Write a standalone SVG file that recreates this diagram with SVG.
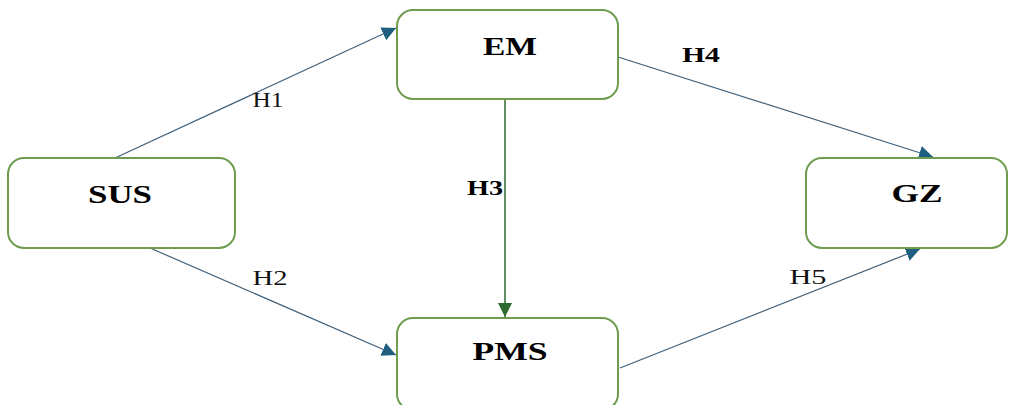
<svg xmlns="http://www.w3.org/2000/svg" width="1020" height="405" viewBox="0 0 1020 405">
<style>
.box{fill:#fff;stroke:#6f9d4f;stroke-width:2}
.nl{font-family:"Liberation Serif",serif;font-weight:bold;font-size:26px;fill:#000;text-anchor:middle}
.hl{font-family:"Liberation Serif",serif;font-size:21px;fill:#111;text-anchor:middle}
.hb{font-weight:bold;fill:#000}
.c{fill:none;stroke:#40607a;stroke-width:1.2}
.cg{fill:none;stroke:#2f6b2f;stroke-width:1.5}
</style>
<defs>
<marker id="ab" markerUnits="userSpaceOnUse" markerWidth="14" markerHeight="14" refX="12" refY="6" orient="auto" viewBox="0 0 12 12">
<path d="M0,0 L12,6 L0,12 Z" fill="#1e5f80"/>
</marker>
<marker id="ag" markerUnits="userSpaceOnUse" markerWidth="14" markerHeight="14" refX="12" refY="6" orient="auto" viewBox="0 0 12 12">
<path d="M0,0 L12,6 L0,12 Z" fill="#2f6b2f"/>
</marker>
</defs>
<rect width="1020" height="405" fill="#fff"/>
<g id="connectors">
<line class="c" x1="115" y1="158" x2="396" y2="28" marker-end="url(#ab)"/>
<line class="c" x1="150" y1="248" x2="396" y2="355" marker-end="url(#ab)"/>
<line class="cg" x1="505" y1="99" x2="505" y2="317" marker-end="url(#ag)"/>
<line class="c" x1="618" y1="57" x2="933" y2="157" marker-end="url(#ab)"/>
<line class="c" x1="620" y1="368" x2="920" y2="249" marker-end="url(#ab)"/>
<text class="hl" x="268" y="107" textLength="31" lengthAdjust="spacingAndGlyphs">H1</text>
<text class="hl" x="270" y="285" textLength="35" lengthAdjust="spacingAndGlyphs">H2</text>
<text class="hl hb" x="485" y="195" textLength="36" lengthAdjust="spacingAndGlyphs">H3</text>
<text class="hl hb" x="701" y="62" textLength="38" lengthAdjust="spacingAndGlyphs">H4</text>
<text class="hl" x="808" y="284" textLength="37" lengthAdjust="spacingAndGlyphs">H5</text>
</g>
<g id="EM">
<rect class="box" x="397" y="10" width="221" height="89" rx="16"/>
<text class="nl" x="510" y="55" textLength="54" lengthAdjust="spacingAndGlyphs">EM</text>
</g>
<g id="SUS">
<rect class="box" x="8" y="158" width="227" height="90" rx="16"/>
<text class="nl" x="120" y="203" textLength="64" lengthAdjust="spacingAndGlyphs">SUS</text>
</g>
<g id="GZ">
<rect class="box" x="806" y="158" width="201" height="90" rx="16"/>
<text class="nl" x="917" y="202" textLength="51" lengthAdjust="spacingAndGlyphs">GZ</text>
</g>
<g id="PMS">
<rect class="box" x="397" y="318" width="221" height="92" rx="16"/>
<text class="nl" x="510" y="360" textLength="75" lengthAdjust="spacingAndGlyphs">PMS</text>
</g>
</svg>
